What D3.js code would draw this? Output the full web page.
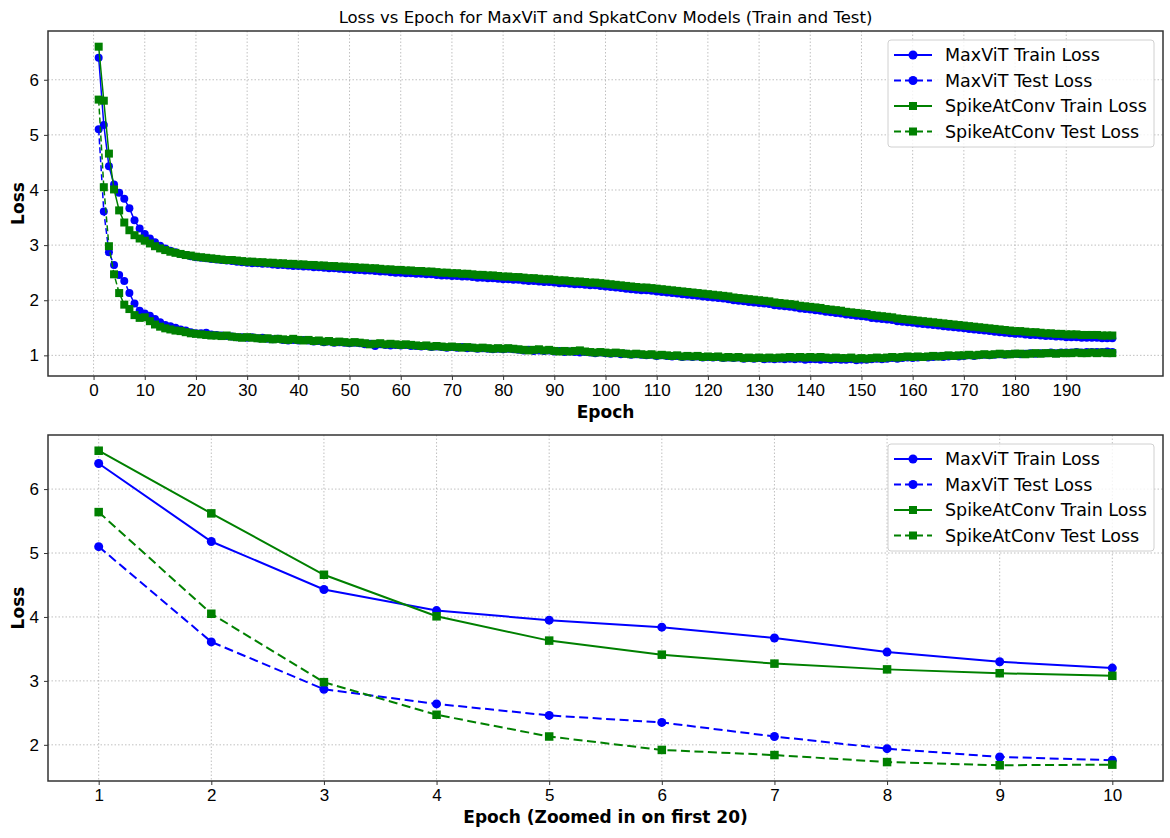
<!DOCTYPE html>
<html>
<head>
<meta charset="utf-8">
<script src="https://cdn.jsdelivr.net/npm/d3@7"></script>
<style>
  body { margin: 0; background: #fff; }
  svg { font-family: "DejaVu Sans", sans-serif; }
  .grid line { stroke: #b0b0b0; stroke-width: 0.8; stroke-dasharray: 1.5,2; }
  .axis path { display: none; }
  .axis line { stroke: #333; }
  .axis text { font-size: 17px; fill: #000; }
</style>
</head>
<body>
<svg id="chart"></svg>
<script>
'use strict';

// loss per epoch, epochs 1..199
var epochs = d3.range(1, 200);

var maxvitTrain = [
  6.40,5.18,4.43,4.10,3.95,3.84,3.67,3.45,3.30,3.20,
  3.12,3.05,2.99,2.94,2.90,2.87,2.84,2.82,2.80,2.78,
  2.77,2.76,2.75,2.74,2.73,2.72,2.71,2.70,2.69,2.68,
  2.67,2.67,2.66,2.66,2.65,2.64,2.64,2.63,2.62,2.62,
  2.61,2.61,2.60,2.60,2.59,2.58,2.58,2.57,2.56,2.56,
  2.55,2.55,2.54,2.54,2.53,2.52,2.52,2.51,2.50,2.50,
  2.49,2.49,2.48,2.48,2.47,2.47,2.46,2.45,2.45,2.44,
  2.44,2.43,2.43,2.42,2.41,2.41,2.40,2.40,2.39,2.38,
  2.38,2.37,2.37,2.36,2.35,2.35,2.34,2.33,2.33,2.32,
  2.31,2.31,2.30,2.29,2.29,2.28,2.27,2.27,2.26,2.25,
  2.24,2.23,2.22,2.21,2.20,2.19,2.18,2.18,2.17,2.16,
  2.15,2.14,2.13,2.12,2.11,2.10,2.09,2.08,2.07,2.06,
  2.05,2.04,2.03,2.02,2.00,1.99,1.98,1.97,1.96,1.95,
  1.94,1.93,1.91,1.90,1.89,1.88,1.87,1.85,1.84,1.83,
  1.82,1.81,1.79,1.78,1.77,1.76,1.74,1.73,1.72,1.71,
  1.70,1.68,1.67,1.66,1.65,1.64,1.62,1.61,1.60,1.59,
  1.58,1.57,1.56,1.55,1.54,1.53,1.52,1.51,1.50,1.49,
  1.48,1.47,1.46,1.45,1.44,1.43,1.42,1.41,1.40,1.39,
  1.39,1.38,1.37,1.37,1.36,1.35,1.35,1.34,1.34,1.33,
  1.33,1.33,1.32,1.32,1.32,1.32,1.31,1.31,1.31
];

var maxvitTest = [
  5.10,3.61,2.87,2.64,2.46,2.35,2.13,1.94,1.81,1.76,
  1.72,1.66,1.60,1.55,1.53,1.50,1.47,1.45,1.42,1.40,
  1.40,1.41,1.38,1.37,1.36,1.35,1.34,1.33,1.33,1.32,
  1.33,1.31,1.32,1.30,1.29,1.30,1.28,1.27,1.28,1.27,
  1.28,1.27,1.25,1.26,1.24,1.25,1.23,1.24,1.23,1.22,
  1.23,1.22,1.20,1.21,1.17,1.20,1.19,1.18,1.19,1.18,
  1.19,1.17,1.17,1.16,1.17,1.15,1.16,1.15,1.14,1.15,
  1.14,1.15,1.13,1.14,1.12,1.13,1.12,1.11,1.12,1.11,
  1.12,1.11,1.10,1.09,1.10,1.08,1.09,1.08,1.09,1.07,
  1.08,1.06,1.07,1.06,1.05,1.06,1.05,1.04,1.05,1.04,
  1.03,1.04,1.02,1.03,1.01,1.02,1.01,1.00,1.01,0.99,
  1.00,0.99,0.98,0.99,0.97,0.98,0.97,0.98,0.96,0.97,
  0.96,0.97,0.95,0.96,0.95,0.96,0.94,0.95,0.94,0.95,
  0.93,0.94,0.93,0.94,0.93,0.94,0.93,0.94,0.92,0.93,
  0.93,0.92,0.93,0.92,0.93,0.92,0.92,0.93,0.91,0.92,
  0.92,0.93,0.94,0.93,0.94,0.95,0.94,0.95,0.96,0.95,
  0.96,0.97,0.96,0.97,0.98,0.97,0.98,0.99,0.98,0.99,
  1.00,0.99,1.00,1.01,1.00,1.01,1.02,1.01,1.02,1.03,
  1.02,1.03,1.04,1.03,1.04,1.04,1.05,1.04,1.05,1.05,
  1.05,1.06,1.05,1.06,1.06,1.06,1.06,1.07,1.06
];

var spikeTrain = [
  6.60,5.62,4.66,4.01,3.63,3.41,3.27,3.18,3.12,3.08,
  3.03,2.98,2.94,2.91,2.88,2.86,2.84,2.82,2.81,2.79,
  2.78,2.77,2.76,2.75,2.74,2.73,2.73,2.72,2.71,2.70,
  2.70,2.69,2.69,2.68,2.68,2.67,2.67,2.66,2.66,2.65,
  2.65,2.64,2.64,2.63,2.63,2.62,2.62,2.61,2.61,2.60,
  2.60,2.59,2.59,2.58,2.58,2.57,2.56,2.56,2.55,2.55,
  2.54,2.54,2.53,2.53,2.52,2.52,2.51,2.50,2.50,2.49,
  2.49,2.48,2.48,2.47,2.46,2.46,2.45,2.45,2.44,2.43,
  2.43,2.42,2.42,2.41,2.40,2.40,2.39,2.38,2.38,2.37,
  2.36,2.36,2.35,2.34,2.34,2.33,2.32,2.32,2.31,2.30,
  2.29,2.28,2.27,2.26,2.25,2.24,2.23,2.23,2.22,2.21,
  2.20,2.19,2.18,2.17,2.16,2.15,2.14,2.13,2.12,2.11,
  2.10,2.09,2.08,2.07,2.05,2.04,2.03,2.02,2.01,2.00,
  1.99,1.98,1.96,1.95,1.94,1.93,1.92,1.90,1.89,1.88,
  1.87,1.86,1.84,1.83,1.82,1.81,1.79,1.78,1.77,1.76,
  1.75,1.73,1.72,1.71,1.70,1.69,1.67,1.66,1.65,1.64,
  1.63,1.62,1.61,1.60,1.59,1.58,1.57,1.56,1.55,1.54,
  1.53,1.52,1.51,1.50,1.49,1.48,1.47,1.46,1.45,1.44,
  1.44,1.43,1.42,1.42,1.41,1.40,1.40,1.39,1.39,1.38,
  1.38,1.38,1.37,1.37,1.37,1.37,1.36,1.36,1.36
];

var spikeTest = [
  5.64,4.05,2.98,2.47,2.13,1.92,1.84,1.73,1.68,1.69,
  1.62,1.56,1.52,1.49,1.47,1.45,1.44,1.42,1.40,1.39,
  1.38,1.37,1.36,1.36,1.35,1.36,1.34,1.33,1.32,1.33,
  1.32,1.31,1.30,1.31,1.29,1.30,1.29,1.28,1.30,1.28,
  1.27,1.28,1.26,1.27,1.25,1.26,1.24,1.25,1.24,1.23,
  1.24,1.23,1.22,1.20,1.21,1.22,1.20,1.21,1.20,1.19,
  1.20,1.19,1.18,1.17,1.18,1.16,1.17,1.16,1.15,1.16,
  1.15,1.14,1.15,1.14,1.13,1.14,1.13,1.12,1.13,1.12,
  1.13,1.12,1.11,1.10,1.09,1.10,1.11,1.09,1.10,1.08,
  1.07,1.08,1.07,1.08,1.09,1.07,1.06,1.05,1.06,1.05,
  1.04,1.05,1.04,1.03,1.02,1.03,1.02,1.01,1.02,1.00,
  1.01,1.00,0.99,1.00,0.98,0.99,0.98,0.99,0.97,0.98,
  0.97,0.98,0.96,0.97,0.96,0.97,0.95,0.96,0.95,0.96,
  0.95,0.96,0.95,0.96,0.96,0.97,0.96,0.97,0.96,0.97,
  0.96,0.97,0.96,0.95,0.96,0.95,0.95,0.96,0.94,0.95,
  0.94,0.95,0.96,0.95,0.96,0.97,0.96,0.97,0.98,0.97,
  0.98,0.97,0.98,0.99,0.98,0.99,1.00,0.99,1.00,1.00,
  1.01,1.00,1.01,1.02,1.01,1.02,1.03,1.02,1.02,1.03,
  1.03,1.02,1.03,1.04,1.03,1.04,1.04,1.03,1.04,1.04,
  1.04,1.05,1.04,1.04,1.05,1.04,1.05,1.04,1.04
];

var seriesNames = ['MaxViT Train Loss', 'MaxViT Test Loss', 'SpikeAtConv Train Loss', 'SpikeAtConv Test Loss'];
var seriesValues = [maxvitTrain, maxvitTest, spikeTrain, spikeTest];
var seriesColors = ['#0000ff', '#0000ff', '#008000', '#008000'];
var seriesDashed = [false, true, false, true];
var seriesMarkers = ['circle', 'circle', 'square', 'square'];

var topXTicks = d3.range(0, 200, 10);
var topYTicks = [1, 2, 3, 4, 5, 6];
var zoomCount = 10;
var bottomXTicks = d3.range(1, 11);
var bottomYTicks = [2, 3, 4, 5, 6];

var width = 1170, height = 838;
var svg = d3.select('#chart').attr('width', width).attr('height', height);

svg.append('text')
  .attr('x', 605.5).attr('y', 23)
  .attr('text-anchor', 'middle')
  .style('font-size', '16.5px')
  .text('Loss vs Epoch for MaxViT and SpkatConv Models (Train and Test)');

function panel(opts) {
  var m = opts.box;
  var n = opts.count;
  var xs = epochs.slice(0, n);
  var all = [];
  seriesValues.forEach(function (s) { all = all.concat(s.slice(0, n)); });
  var xMin = d3.min(xs), xMax = d3.max(xs);
  var yMin = d3.min(all), yMax = d3.max(all);
  var xPad = (xMax - xMin) * 0.05, yPad = (yMax - yMin) * 0.05;

  var x = d3.scaleLinear().domain([xMin - xPad, xMax + xPad]).range([m.left, m.right]);
  var y = d3.scaleLinear().domain([yMin - yPad, yMax + yPad]).range([m.bottom, m.top]);

  var g = svg.append('g');

  // grid
  var grid = g.append('g').attr('class', 'grid');
  grid.selectAll('line.gx').data(opts.xTicks).enter().append('line')
    .attr('x1', function (d) { return x(d); }).attr('x2', function (d) { return x(d); })
    .attr('y1', m.top).attr('y2', m.bottom);
  grid.selectAll('line.gy').data(opts.yTicks).enter().append('line')
    .attr('y1', function (d) { return y(d); }).attr('y2', function (d) { return y(d); })
    .attr('x1', m.left).attr('x2', m.right);

  // series
  var line = d3.line()
    .x(function (d, i) { return x(xs[i]); })
    .y(function (d) { return y(d); });

  seriesValues.forEach(function (s, k) {
    var vals = s.slice(0, n);
    var sg = g.append('g');
    sg.append('path')
      .attr('d', line(vals))
      .attr('fill', 'none')
      .attr('stroke', seriesColors[k])
      .attr('stroke-width', opts.lw)
      .attr('stroke-dasharray', seriesDashed[k] ? opts.dash : null);
    if (seriesMarkers[k] === 'circle') {
      sg.selectAll('circle').data(vals).enter().append('circle')
        .attr('cx', function (d, i) { return x(xs[i]); })
        .attr('cy', function (d) { return y(d); })
        .attr('r', opts.r)
        .attr('fill', seriesColors[k]);
    } else {
      sg.selectAll('rect').data(vals).enter().append('rect')
        .attr('x', function (d, i) { return x(xs[i]) - opts.sq / 2; })
        .attr('y', function (d) { return y(d) - opts.sq / 2; })
        .attr('width', opts.sq).attr('height', opts.sq)
        .attr('fill', seriesColors[k]);
    }
  });

  // frame
  g.append('rect')
    .attr('x', m.left).attr('y', m.top)
    .attr('width', m.right - m.left).attr('height', m.bottom - m.top)
    .attr('fill', 'none').attr('stroke', '#333').attr('stroke-width', 1.5);

  g.append('g').attr('class', 'axis')
    .attr('transform', 'translate(0,' + m.bottom + ')')
    .call(d3.axisBottom(x).tickValues(opts.xTicks).tickSize(4).tickPadding(4).tickFormat(d3.format('d')));
  g.append('g').attr('class', 'axis')
    .attr('transform', 'translate(' + m.left + ',0)')
    .call(d3.axisLeft(y).tickValues(opts.yTicks).tickSize(4).tickPadding(5).tickFormat(d3.format('d')));

  g.append('text')
    .attr('x', (m.left + m.right) / 2).attr('y', m.bottom + 42)
    .attr('text-anchor', 'middle')
    .style('font-size', '17px').style('font-weight', 'bold')
    .text(opts.xLabel);
  g.append('text')
    .attr('transform', 'translate(24,' + (m.top + m.bottom) / 2 + ') rotate(-90)')
    .attr('text-anchor', 'middle')
    .style('font-size', '17px').style('font-weight', 'bold')
    .text('Loss');

  // legend
  var lg = g.append('g').attr('transform', 'translate(' + (m.right - 275) + ',' + (m.top + 9) + ')');
  lg.append('rect')
    .attr('x', 0).attr('y', 0).attr('width', 266).attr('height', 107)
    .attr('rx', 3).attr('fill', '#fff').attr('fill-opacity', 0.8)
    .attr('stroke', '#d0d0d0');
  seriesNames.forEach(function (name, k) {
    var yy = 15 + k * 25.5;
    lg.append('line')
      .attr('x1', 6).attr('x2', 44).attr('y1', yy).attr('y2', yy)
      .attr('stroke', seriesColors[k]).attr('stroke-width', 2)
      .attr('stroke-dasharray', seriesDashed[k] ? '7,4' : null);
    if (seriesMarkers[k] === 'circle') {
      lg.append('circle').attr('cx', 25).attr('cy', yy).attr('r', 4.5).attr('fill', seriesColors[k]);
    } else {
      lg.append('rect').attr('x', 21).attr('y', yy - 4).attr('width', 8).attr('height', 8).attr('fill', seriesColors[k]);
    }
    lg.append('text')
      .attr('x', 57).attr('y', yy + 6)
      .style('font-size', '17.5px')
      .text(name);
  });
}

panel({
  box: {left: 48, right: 1163, top: 31, bottom: 376},
  count: epochs.length,
  xTicks: topXTicks, yTicks: topYTicks,
  xLabel: 'Epoch',
  lw: 1.5, dash: '6,3', r: 4, sq: 8
});

panel({
  box: {left: 48, right: 1163, top: 435, bottom: 781},
  count: zoomCount,
  xTicks: bottomXTicks, yTicks: bottomYTicks,
  xLabel: 'Epoch (Zoomed in on first 20)',
  lw: 2, dash: '9,4.5', r: 4.5, sq: 8.5
});
</script>
</body>
</html>
